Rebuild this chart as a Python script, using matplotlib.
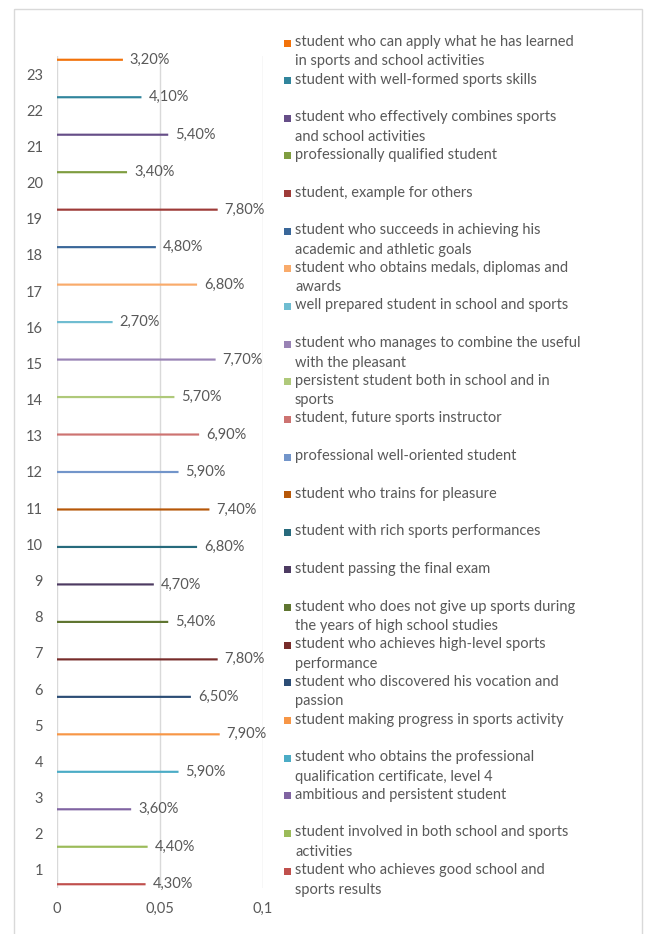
import numpy as np
import matplotlib
matplotlib.use('Agg')
from matplotlib import pyplot as plt
from matplotlib.patches import Rectangle

# data
categories = list(range(1, 24))
values = [0.043, 0.044, 0.036, 0.059, 0.079, 0.065, 0.078, 0.054, 0.047, 0.068,
          0.074, 0.059, 0.069, 0.057, 0.077, 0.027, 0.068, 0.048, 0.078, 0.034,
          0.054, 0.041, 0.032]
labels = [
    "student who achieves good school and\nsports results",
    "student involved in both school and sports\nactivities",
    "ambitious and persistent student",
    "student who obtains the professional\nqualification certificate, level 4",
    "student making progress in sports activity",
    "student who discovered his vocation and\npassion",
    "student who achieves high-level sports\nperformance",
    "student who does not give up sports during\nthe years of high school studies",
    "student passing the final exam",
    "student with rich sports performances",
    "student who trains for pleasure",
    "professional well-oriented student",
    "student, future sports instructor",
    "persistent student both in school and in\nsports",
    "student who manages to combine the useful\nwith the pleasant",
    "well prepared student in school and sports",
    "student who obtains medals, diplomas and\nawards",
    "student who succeeds in achieving his\nacademic and athletic goals",
    "student, example for others",
    "professionally qualified student",
    "student who effectively combines sports\nand school activities",
    "student with well-formed sports skills",
    "student who can apply what he has learned\nin sports and school activities",
]
colors = ['#C0504D', '#9BBB59', '#8064A2', '#4BACC6', '#F79646',
          '#2C4D75', '#772C2A', '#5F7530', '#4D3B62', '#276A7C', '#B65708',
          '#7295CA', '#CD7371', '#AFC97A', '#9983B5', '#6FBDD1', '#F9AB6B',
          '#3A6799', '#9E3B38', '#7F9D40', '#664E88', '#31859C', '#F2720A']

# figure setup
W, H = 649, 934
plt.rcParams['font.family'] = ['Lato', 'DejaVu Sans']
text_color = '#595959'
fs = 10.5
fig = plt.figure(figsize=(W / 100, H / 100), dpi=100)

# outer chart border
fig.patches.append(Rectangle((14 / W, 1 - 9 / H), (642 - 14) / W, -1.1,
                             transform=fig.transFigure, fill=False,
                             edgecolor='#d9d9d9', linewidth=1))

# plot area
ax = fig.add_axes([57 / W, 1 - 888 / H, 206 / W, (888 - 56) / H])
n = len(categories)
step = 0.036
for i, (cat, val) in enumerate(zip(categories, values)):
    y = cat + (i - (n - 1) / 2) * step
    ax.barh(y, val, height=0.06, color=colors[i], zorder=3, snap=False)
    ax.annotate(f"{val * 100:.2f}%".replace('.', ','), (val, y),
                xytext=(5, 0), textcoords='offset points',
                ha='left', va='center', fontsize=fs, color=text_color,
                annotation_clip=False)

ax.set_xlim(0, 0.1)
ax.set_ylim(0.5, 23.5)
ax.set_xticks([0, 0.05, 0.1])
ax.set_xticklabels(['0', '0,05', '0,1'])
ax.set_yticks(categories)
ax.tick_params(axis='both', length=0, labelsize=fs, labelcolor=text_color)
ax.tick_params(axis='y', pad=10)
ax.tick_params(axis='x', pad=10)
ax.grid(axis='x', color='#d9d9d9', linewidth=1, zorder=0)
for side in ['top', 'right', 'bottom', 'left']:
    ax.spines[side].set_visible(False)

# legend, drawn entry by entry (top entry = last series)
first_y, gap = 43, 37.64
for j, i in enumerate(range(n - 1, -1, -1)):
    yc = first_y + j * gap
    fig.patches.append(Rectangle((284 / W, 1 - (yc + 3.5) / H), 7 / W, 7 / H,
                                 transform=fig.transFigure,
                                 facecolor=colors[i], edgecolor='none'))
    fig.text(295 / W, 1 - (yc - 8) / H, labels[i], ha='left', va='top',
             fontsize=fs, color=text_color, linespacing=1.5)

fig.savefig('out.png', dpi=100)
